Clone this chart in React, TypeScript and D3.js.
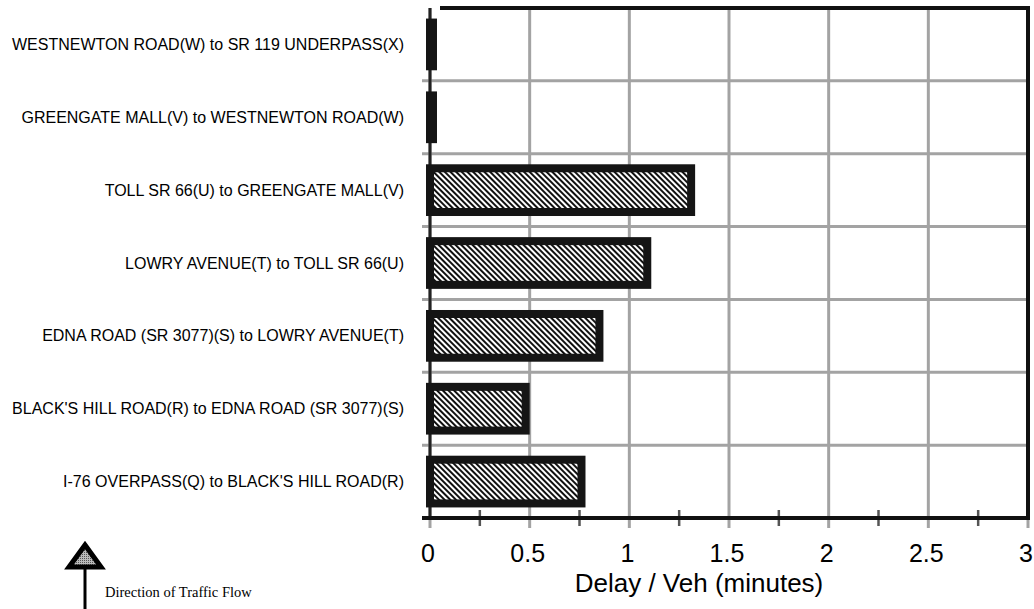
import React from 'react';
import { scaleLinear, scaleBand, range } from 'd3';

const segments = [
  'WESTNEWTON ROAD(W) to SR 119 UNDERPASS(X)',
  'GREENGATE MALL(V) to WESTNEWTON ROAD(W)',
  'TOLL SR 66(U) to GREENGATE MALL(V)',
  'LOWRY AVENUE(T) to TOLL SR 66(U)',
  'EDNA ROAD (SR 3077)(S) to LOWRY AVENUE(T)',
  "BLACK'S HILL ROAD(R) to EDNA ROAD (SR 3077)(S)",
  "I-76 OVERPASS(Q) to BLACK'S HILL ROAD(R)",
];
const delays = [0.015, 0.015, 1.31, 1.09, 0.85, 0.48, 0.76];
const majorTicks = [0, 0.5, 1, 1.5, 2, 2.5, 3];
const tickLabels = ['0', '0.5', '1', '1.5', '2', '2.5', '3'];
const minorTicks = [0.25, 0.75, 1.25, 1.75, 2.25, 2.75];

const W = 1034, H = 609;
const plot = { left: 430, right: 1028, top: 8, bottom: 518 };
const grid = '#a3a3a3';
const sans = 'Liberation Sans, Arial, sans-serif';

export default function App() {
  const x = scaleLinear().domain([0, 3]).range([plot.left, plot.right]);
  const y = scaleBand<string>().domain(segments).range([plot.top, plot.bottom]).paddingInner(0.29).paddingOuter(0.145);
  const step = y.step();

  return (
    <svg width={W} height={H} style={{ position: 'absolute', left: 0, top: 0, background: '#fff' }}>
      <defs>
        <pattern id="hatch" width="4" height="4" patternUnits="userSpaceOnUse" patternTransform="rotate(-45)">
          <rect width="4" height="4" fill="#fff" />
          <line x1="1" y1="0" x2="1" y2="4" stroke="#111" strokeWidth="2" />
        </pattern>
        <pattern id="hatchArrow" width="2" height="2" patternUnits="userSpaceOnUse">
          <rect width="2" height="2" fill="#bbb" />
          <rect width="1" height="1" fill="#555" />
        </pattern>
      </defs>

      {/* horizontal gridlines between segments */}
      {range(1, segments.length).map(i => (
        <line key={'h' + i} x1={422} x2={plot.right} y1={plot.top + i * step} y2={plot.top + i * step}
          stroke={grid} strokeWidth={3} />
      ))}
      {/* vertical gridlines + major ticks */}
      {majorTicks.map(t => (
        <line key={'v' + t} x1={x(t)} x2={x(t)} y1={plot.top} y2={plot.bottom + 10}
          stroke={grid} strokeWidth={3} />
      ))}
      {minorTicks.map(t => (
        <line key={'m' + t} x1={x(t)} x2={x(t)} y1={plot.bottom - 8} y2={plot.bottom + 8}
          stroke="#555" strokeWidth={2.5} />
      ))}

      {/* frame */}
      <line x1={plot.left + 10} x2={plot.right + 2} y1={plot.top} y2={plot.top} stroke="#111" strokeWidth={4} />
      <line x1={plot.right} x2={plot.right} y1={plot.top} y2={plot.bottom} stroke="#111" strokeWidth={4} />
      <line x1={plot.left} x2={plot.left} y1={plot.top} y2={plot.bottom} stroke="#222" strokeWidth={3} />
      <line x1={plot.left - 8} x2={plot.right + 2} y1={plot.bottom} y2={plot.bottom} stroke="#111" strokeWidth={4} />

      {/* bars */}
      {segments.map((s, i) => (
        <rect key={s} x={x(0)} y={(y(s) ?? 0) + 4} width={x(delays[i]) - x(0)} height={y.bandwidth() - 8}
          fill="url(#hatch)" stroke="#151515" strokeWidth={8} />
      ))}

      {/* category labels */}
      {segments.map(s => (
        <text key={'l' + s} x={404} y={(y(s) ?? 0) + y.bandwidth() / 2} dy="0.35em" textAnchor="end"
          fontFamily={sans} fontSize={16} fill="#000">{s}</text>
      ))}

      {/* x tick labels */}
      {majorTicks.map((t, i) => (
        <text key={'t' + t} x={x(t) - 2} y={562} textAnchor="middle"
          fontFamily={sans} fontSize={25} fill="#000">{tickLabels[i]}</text>
      ))}
      <text x={699} y={592} textAnchor="middle" fontFamily={sans} fontSize={26} fill="#000">
        Delay / Veh (minutes)
      </text>

      {/* direction arrow */}
      <line x1={85} x2={85} y1={566} y2={609} stroke="#000" strokeWidth={3} />
      <path d="M85,545 L101,567 L69,567 Z" fill="url(#hatchArrow)" stroke="#000" strokeWidth={5} strokeLinejoin="miter" />
      <text x={105} y={597} fontFamily="Liberation Serif, Times New Roman, serif" fontSize={14.5} fill="#000">
        Direction of Traffic Flow
      </text>
    </svg>
  );
}
